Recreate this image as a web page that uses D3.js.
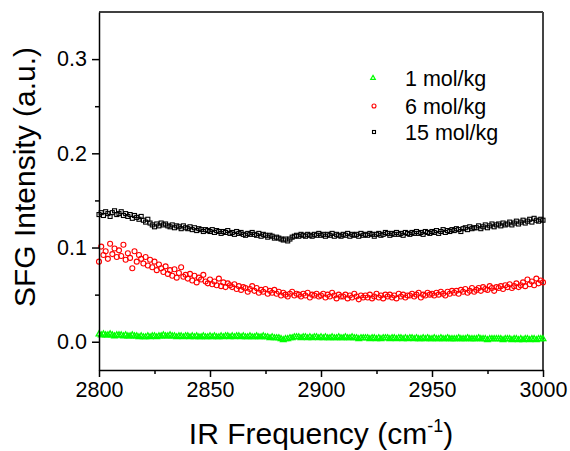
<!DOCTYPE html>
<html lang="en">
<head>
    <meta charset="UTF-8">
    <title>SFG Intensity</title>
    <style>
        body, html {
            margin: 0;
            padding: 0;
            background: #fff;
        }
        #chart svg {
            display: block;
            font-family: "Liberation Sans", Arial, sans-serif;
        }
    </style>
    <script src="https://d3js.org/d3.v7.min.js"></script>
</head>
<body>
    <div id="chart"></div>
    <script>
        // IR frequency starts at 2800 cm-1, one point per cm-1 up to 3000
        const xStart = 2800;
        const xTicks = [2800, 2850, 2900, 2950, 3000];
        const yTicks = [0.0, 0.1, 0.2, 0.3];

        // SFG intensity values in units of 0.001 a.u.
        const black15 = [
            135,137,134,138,136,133,137,139,135,136,
            138,134,136,133,135,131,134,132,130,133,
            129,127,130,126,124,122,125,123,126,124,
            125,123,122,124,121,123,122,120,123,121,
            120,122,119,121,118,120,119,117,119,118,
            117,119,116,118,117,115,117,116,118,115,
            116,114,117,115,116,114,113,115,114,116,
            114,113,115,112,114,113,111,113,112,110,
            111,110,109,108,109,107,109,111,112,113,
            112,114,113,112,114,113,112,114,113,115,
            113,114,112,114,113,115,112,114,113,112,
            114,113,115,112,114,113,114,112,115,113,
            114,113,115,114,112,114,115,113,114,116,
            115,113,115,114,116,114,115,113,116,115,
            114,116,115,117,115,116,114,117,116,115,
            117,116,118,115,117,119,116,118,117,119,
            118,120,119,117,120,121,119,122,120,121,
            121,123,120,122,124,121,123,125,122,124,
            125,123,126,124,125,127,124,126,128,125,
            127,129,126,128,130,127,131,129,128,130,
            129
        ];
        const red6 = [
            85,101,92,96,88,104,93,99,90,97,
            91,103,87,94,89,78,96,85,92,88,
            83,90,81,87,79,85,76,82,78,74,
            80,72,76,70,77,68,73,79,69,71,
            67,72,65,70,63,68,66,71,64,62,
            66,61,64,60,67,59,63,58,62,60,
            58,61,56,59,55,58,57,53,56,59,
            54,57,52,55,53,56,51,54,52,55,
            51,53,49,52,50,48,51,53,49,51,
            50,48,51,49,52,47,50,49,51,48,
            49,51,47,50,48,52,49,46,50,48,
            48,50,46,49,47,51,48,45,49,47,
            49,47,50,46,48,51,47,49,46,50,
            48,50,47,49,46,51,48,50,47,49,
            49,51,48,50,52,47,50,49,52,50,
            51,49,52,50,53,51,49,53,51,54,
            52,54,51,55,53,56,52,54,57,53,
            55,57,54,58,56,55,59,57,54,58,
            57,59,56,60,58,61,57,59,62,58,
            60,63,59,66,61,64,60,67,62,65,
            63
        ];
        const green1 = [
            8,7,8,7,7,8,7,6,7,7,
            7,6,7,6,6,7,6,6,5,6,
            5,5,6,5,6,6,5,6,6,7,
            6,6,7,6,6,5,6,6,5,6,
            6,5,6,5,6,5,5,6,5,5,
            6,5,6,5,5,6,5,6,6,5,
            6,5,6,6,5,6,5,5,6,5,
            5,6,5,5,6,5,5,4,5,4,
            4,4,3,2,3,3,4,4,5,5,
            5,4,5,5,4,5,4,5,5,4,
            5,4,5,4,4,5,4,4,5,4,
            4,5,4,4,5,4,4,3,4,4,
            4,4,3,4,4,3,4,3,4,4,
            4,3,4,4,3,4,4,3,4,3,
            4,4,3,4,3,3,4,3,4,3,
            3,4,3,3,4,3,3,4,3,3,
            3,3,4,3,3,3,4,3,3,3,
            3,4,3,3,3,2,3,3,3,3,
            3,3,2,3,3,3,2,3,3,2,
            3,2,3,3,2,3,3,2,3,3,
            3
        ];
        const seriesNames = ["1 mol/kg", "6 mol/kg", "15 mol/kg"];

        const margin = { top: 12, right: 27, bottom: 81, left: 99 },
            width = 570 - margin.left - margin.right,
            height = 451 - margin.top - margin.bottom;

        const svg = d3.select("#chart").append("svg")
            .attr("width", 570)
            .attr("height", 451);

        const g = svg.append("g")
            .attr("transform", `translate(${margin.left},${margin.top})`);

        const x = d3.scaleLinear().domain([2800, 3000]).range([0, width]);
        const y = d3.scaleLinear().domain([-0.03, 0.35]).range([height, 0]);

        const toPoints = arr => arr.map((v, i) => ({ x: xStart + i, y: v / 1000 }));

        // frame: top and right edges
        g.append("line").attr("x1", 0).attr("x2", width).attr("y1", 0).attr("y2", 0)
            .attr("stroke", "#000").attr("stroke-width", 1.5);
        g.append("line").attr("x1", width).attr("x2", width).attr("y1", 0).attr("y2", height)
            .attr("stroke", "#444").attr("stroke-width", 2);

        // data marks
        const greenPts = toPoints(green1);
        const redPts = toPoints(red6);
        const blackPts = toPoints(black15);

        const tri = d3.symbol().type(d3.symbolTriangle).size(14);

        g.append("g").selectAll("path")
            .data(greenPts)
            .enter().append("path")
            .attr("d", tri)
            .attr("transform", d => `translate(${x(d.x)},${y(d.y)})`)
            .attr("fill", "none")
            .attr("stroke", "#00ff00")
            .attr("stroke-width", 1.3);

        g.append("g").selectAll("circle")
            .data(redPts)
            .enter().append("circle")
            .attr("cx", d => x(d.x))
            .attr("cy", d => y(d.y))
            .attr("r", 2.5)
            .attr("fill", "none")
            .attr("stroke", "#ff0000")
            .attr("stroke-width", 1.1);

        g.append("g").selectAll("rect")
            .data(blackPts)
            .enter().append("rect")
            .attr("x", d => x(d.x) - 2)
            .attr("y", d => y(d.y) - 2)
            .attr("width", 4)
            .attr("height", 4)
            .attr("fill", "none")
            .attr("stroke", "#000")
            .attr("stroke-width", 1.1);

        // axes
        g.append("g")
            .attr("transform", `translate(0,${height})`)
            .call(d3.axisBottom(x).tickValues(xTicks).tickSize(7).tickSizeOuter(0).tickPadding(5)
                .tickFormat(d3.format("d")));
        g.append("g")
            .attr("transform", `translate(0,${height})`)
            .call(d3.axisBottom(x).tickValues(d3.range(2825, 3000, 50)).tickSize(4).tickFormat(""))
            .select(".domain").remove();

        g.append("g")
            .call(d3.axisLeft(y).tickValues(yTicks).tickSize(7).tickSizeOuter(0).tickPadding(5)
                .tickFormat(d3.format(".1f")));
        g.append("g")
            .call(d3.axisLeft(y).tickValues([0.05, 0.15, 0.25]).tickSize(4).tickFormat(""))
            .select(".domain").remove();

        svg.selectAll(".domain").attr("stroke-width", 1.5);
        svg.selectAll(".tick line").attr("stroke-width", 1.5);
        svg.selectAll(".tick text")
            .style("font-size", "21.5px")
            .style("font-family", "'Liberation Sans', Arial, sans-serif")
            .attr("fill", "#000");

        // axis titles
        const xt = svg.append("text")
            .attr("x", margin.left + width / 2)
            .attr("y", 444)
            .attr("text-anchor", "middle")
            .style("font-size", "30px");
        xt.append("tspan").text("IR Frequency (cm");
        xt.append("tspan").text("-1").style("font-size", "18px").attr("dy", -12);
        xt.append("tspan").text(")").attr("dy", 12);

        svg.append("text")
            .attr("transform", `translate(35,${margin.top + 165}) rotate(-90)`)
            .attr("text-anchor", "middle")
            .style("font-size", "30px")
            .text("SFG Intensity (a.u.)");

        // legend
        const legendY = [78, 106, 132];
        const legend = svg.append("g");
        legend.append("path")
            .attr("d", d3.symbol().type(d3.symbolTriangle).size(9))
            .attr("transform", `translate(373,${legendY[0]})`)
            .attr("fill", "none").attr("stroke", "#00ff00").attr("stroke-width", 1.2);
        legend.append("circle")
            .attr("cx", 374).attr("cy", legendY[1]).attr("r", 2)
            .attr("fill", "none").attr("stroke", "#ff0000").attr("stroke-width", 1.1);
        legend.append("rect")
            .attr("x", 372.5).attr("y", legendY[2] - 1.5).attr("width", 3).attr("height", 3)
            .attr("fill", "none").attr("stroke", "#000").attr("stroke-width", 1.1);
        legend.selectAll("text")
            .data(seriesNames)
            .enter().append("text")
            .attr("x", 405)
            .attr("y", (d, i) => legendY[i] + 7.5)
            .style("font-size", "21.5px")
            .text(d => d);
    </script>
</body>
</html>
